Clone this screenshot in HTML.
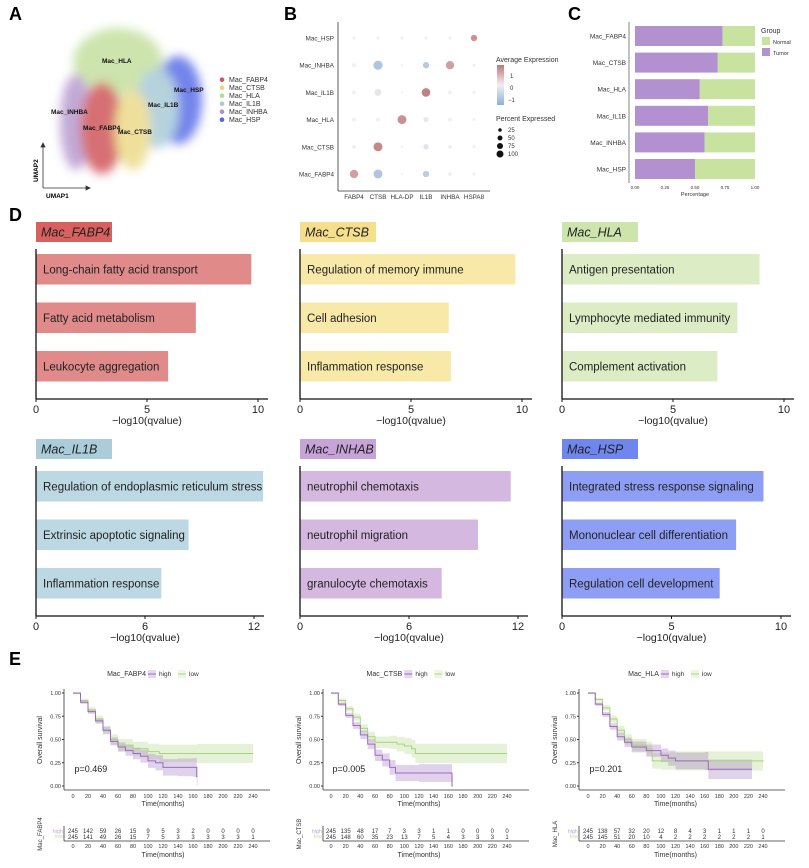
<!DOCTYPE html>
<html><head><meta charset="utf-8">
<style>
html,body{margin:0;padding:0;background:#fff;}
svg{display:block;font-family:"Liberation Sans",Arial,sans-serif;}
</style></head>
<body>
<svg id="fig" width="809" height="868" viewBox="0 0 809 868" xmlns="http://www.w3.org/2000/svg">
<defs>
<filter id="blur" x="-30%" y="-30%" width="160%" height="160%"><feGaussianBlur stdDeviation="5"/></filter>
<linearGradient id="cbar" x1="0" y1="0" x2="0" y2="1">
<stop offset="0" stop-color="#c0787a"/><stop offset="0.5" stop-color="#f3eef0"/><stop offset="1" stop-color="#8fb0d6"/>
</linearGradient>
</defs>

<g font-weight="bold" font-size="18" fill="#000">
<text x="9" y="20">A</text>
<text x="284" y="20">B</text>
<text x="568" y="20">C</text>
<text x="9" y="221">D</text>
<text x="9" y="665">E</text>
</g>

<g id="umap">
<g filter="url(#blur)" opacity="0.85">
<ellipse cx="118" cy="62" rx="45" ry="34" fill="#c5e0a0"/>
<ellipse cx="178" cy="100" rx="24" ry="44" fill="#5b6ee8"/>
<ellipse cx="157" cy="108" rx="22" ry="40" fill="#a9cbd8"/>
<ellipse cx="76" cy="122" rx="16" ry="48" fill="#b89bd0"/>
<ellipse cx="102" cy="128" rx="22" ry="46" fill="#d0595c"/>
<ellipse cx="133" cy="130" rx="18" ry="40" fill="#ecdb8a"/>
</g>
<g font-size="6.5" font-weight="bold" fill="#111">
<text x="102" y="63">Mac_HLA</text>
<text x="174" y="92">Mac_HSP</text>
<text x="148" y="107">Mac_IL1B</text>
<text x="51" y="114">Mac_INHBA</text>
<text x="83" y="130">Mac_FABP4</text>
<text x="118" y="134">Mac_CTSB</text>
</g>
<g stroke="#333" stroke-width="0.8" fill="#333">
<line x1="43" y1="188" x2="43" y2="146"/><polygon points="41,147 45,147 43,143"/>
<line x1="43" y1="188" x2="87" y2="188"/><polygon points="86,186 86,190 90,188"/>
</g>
<text x="38" y="182" font-size="6.5" font-weight="bold" transform="rotate(-90 38 182)">UMAP2</text>
<text x="46" y="198" font-size="6.5" font-weight="bold">UMAP1</text>
<g id="umapLegend" font-size="7" fill="#333"></g>
</g>

<g id="dotplot"></g>
<g id="stack"></g>
<g id="enrich"></g>
<g id="km"></g>
</svg>

<script>
const NS="http://www.w3.org/2000/svg";
function el(tag,attrs,parent,txt){const e=document.createElementNS(NS,tag);for(const k in attrs)e.setAttribute(k,attrs[k]);if(txt!==undefined)e.textContent=txt;parent.appendChild(e);return e;}

const umapClusters=["Mac_FABP4","Mac_CTSB","Mac_HLA","Mac_IL1B","Mac_INHBA","Mac_HSP"];
const umapColors=["#c9585c","#ecd57a","#b8dc8e","#a9cbd8","#b48fd0","#5068e8"];
const uL=document.getElementById('umapLegend');
umapClusters.forEach((c,i)=>{
  const y=82+i*8;
  const d=el('circle',{cx:222,cy:y-2.3,r:2.3,fill:umapColors[i]},uL);
  
  
  const t=el('text',{x:229,y:y},uL,c);
  
  
});

const dpGenes=["FABP4","CTSB","HLA-DP","IL1B","INHBA","HSPA8"];
const dpClusters=["Mac_FABP4","Mac_CTSB","Mac_HLA","Mac_IL1B","Mac_INHBA","Mac_HSP"];
const dpPct=[[70,80,5,40,15,10],[15,80,5,30,15,10],[15,15,80,25,15,10],[15,50,5,75,15,10],[15,85,5,40,70,10],[10,10,10,10,10,40]];
const dpAvg=[[1,-1,0,-0.8,0,0],[0,1.3,0,-0.3,0,0],[0,0,1.2,-0.2,0,0],[0,-0.2,0,1.4,0,0],[0,-1,0,-0.9,1,0],[0,0,0,0,0,1.2]];
(function(){
  const g=document.getElementById('dotplot');
  const x0=354,dx=24,yBot=174,dy=27.2;
  const xs=i=>x0+i*dx, ys=j=>yBot-j*dy;
  const rs=p=>Math.sqrt(p/100)*5;
  function col(v){const t=Math.max(-1.5,Math.min(1.5,v))/1.5;
    const a=[243,238,240],hi=[192,120,122],lo=[143,176,214];const b=t>0?hi:lo;const k=Math.abs(t);
    return `rgb(${a.map((c,i)=>Math.round(c+(b[i]-c)*k)).join(',')})`;}
  el('line',{x1:338,y1:22,x2:338,y2:191,stroke:'#333','stroke-width':0.8},g);
  el('line',{x1:338,y1:191,x2:490,y2:191,stroke:'#333','stroke-width':0.8},g);
  dpClusters.forEach((c,j)=>{const t=el('text',{x:334,y:ys(j)+2.5,'font-size':6.3,'text-anchor':'end',fill:'#333'},g,c);
    });
  dpGenes.forEach((gn,i)=>{const t=el('text',{x:xs(i),y:199,'font-size':6.3,'text-anchor':'middle',fill:'#333'},g,gn);
    });
  dpClusters.forEach((c,j)=>dpGenes.forEach((gn,i)=>{
    const d=el('circle',{cx:xs(i),cy:ys(j),r:Math.max(0.6,rs(dpPct[j][i])),fill:col(dpAvg[j][i])},g);
    }));
  el('text',{x:496,y:62,'font-size':7,fill:'#333'},g,'Average Expression');
  el('rect',{x:497,y:65,width:7,height:40,fill:'url(#cbar)'},g);
  el('text',{x:510,y:78,'font-size':6,fill:'#333'},g,'1');
  el('text',{x:510,y:90,'font-size':6,fill:'#333'},g,'0');
  el('text',{x:508,y:102,'font-size':6,fill:'#333'},g,'−1');
  el('text',{x:496,y:121,'font-size':7,fill:'#333'},g,'Percent Expressed');
  [25,50,75,100].forEach((p,i)=>{el('circle',{cx:500,cy:130+i*8,r:rs(p)*0.7,fill:'#111'},g);
    el('text',{x:508,y:132+i*8,'font-size':6,fill:'#333'},g,String(p));});
})();

const stCats=["Mac_FABP4","Mac_CTSB","Mac_HLA","Mac_IL1B","Mac_INHBA","Mac_HSP"];
const stTumor=[0.73,0.69,0.54,0.61,0.58,0.50];
const stTicks=["0.00","0.25","0.50","0.75","1.00"];
(function(){
  const g=document.getElementById('stack');
  const x0=635,w=120;const xs=v=>x0+v*w;const yc=i=>36+i*26.6;const h=20;
  el('line',{x1:629,y1:22,x2:629,y2:183,stroke:'#999','stroke-width':1.2},g);
  stCats.forEach((c,i)=>{
    const r1=el('rect',{x:xs(0),y:yc(i)-h/2,width:xs(stTumor[i])-xs(0),height:h,fill:'#b391d0'},g);
    
    const r2=el('rect',{x:xs(stTumor[i]),y:yc(i)-h/2,width:xs(1)-xs(stTumor[i]),height:h,fill:'#c8e3a0'},g);
    
    const t=el('text',{x:626,y:yc(i)+2.5,'font-size':6.5,'text-anchor':'end',fill:'#333'},g,c);
    
  });
  stTicks.forEach((tk,i)=>el('text',{x:xs(parseFloat(tk)),y:189,'font-size':4.5,'text-anchor':'middle',fill:'#333'},g,tk));
  el('text',{x:xs(0.5),y:196,'font-size':5.5,'text-anchor':'middle',fill:'#333'},g,'Percentage');
  el('text',{x:761,y:33,'font-size':7,fill:'#333'},g,'Group');
  el('rect',{x:762,y:37,width:8,height:8,fill:'#c8e3a0'},g);
  el('text',{x:773,y:44,'font-size':5.5,fill:'#333'},g,'Normal');
  el('rect',{x:762,y:48,width:8,height:8,fill:'#b391d0'},g);
  el('text',{x:773,y:55,'font-size':5.5,fill:'#333'},g,'Tumor');
})();

const enTitles=["Mac_FABP4","Mac_CTSB","Mac_HLA","Mac_IL1B","Mac_INHAB","Mac_HSP"];
const enTerms=[["Long-chain fatty acid transport","Fatty acid metabolism","Leukocyte aggregation"],
["Regulation of memory immune","Cell adhesion","Inflammation response"],
["Antigen presentation","Lymphocyte mediated immunity","Complement activation"],
["Regulation of endoplasmic reticulum stress","Extrinsic apoptotic signaling","Inflammation response"],
["neutrophil chemotaxis","neutrophil migration","granulocyte chemotaxis"],
["Integrated stress response signaling","Mononuclear cell differentiation","Regulation cell development"]];
const enValues=[[9.7,7.2,5.95],[9.7,6.7,6.8],[8.9,7.9,7.0],[12.5,8.4,6.9],[11.6,9.8,7.8],[9.2,7.95,7.2]];
const enTicks=[[0,5,10],[0,5,10],[0,5,10],[0,6,12],[0,6,12],[0,5,10]];
const enBarCol=["#e08a8a","#f8e9a8","#dcedc6","#bcd8e2","#d4b8e0","#8e9ef4"];
const enTitleCol=["#d8605f","#f6df8c","#cde5ad","#aacdd9","#c6a3d9","#6f86ee"];
(function(){
  const g=document.getElementById('enrich');
  const px=[36,300,562,36,300,562];const py=[222,222,222,439,439,439];
  const span=[222,222,222,218,218,219];
  for(let k=0;k<6;k++){
    const x0=px[k],top=py[k];const mx=enTicks[k][2];const xs=v=>x0+v/mx*span[k];
    const grp=el('g',{},g);
    const tb=el('rect',{x:x0,y:top,width:76,height:20,fill:enTitleCol[k]},grp);
    
    el('text',{x:x0+5,y:top+14.5,'font-size':12.5,'font-style':'italic',fill:'#222'},grp,enTitles[k]);
    const axY=top+177;
    for(let i=0;i<3;i++){
      const y=top+32+i*48.5;
      const b=el('rect',{x:xs(0),y:y,width:xs(enValues[k][i])-xs(0),height:30.5,fill:enBarCol[k]},grp);
      
      el('text',{x:x0+7,y:y+19.5,'font-size':11.5,fill:'#222'},grp,enTerms[k][i]);
    }
    el('line',{x1:x0,y1:top+27,x2:x0,y2:axY,stroke:'#111','stroke-width':1.3},grp);
    el('line',{x1:x0,y1:axY,x2:x0+span[k]+10,y2:axY,stroke:'#111','stroke-width':1.3},grp);
    enTicks[k].forEach(t=>{el('line',{x1:xs(t),y1:axY,x2:xs(t),y2:axY+3,stroke:'#111'},grp);
      el('text',{x:xs(t),y:axY+14,'font-size':11,'text-anchor':'middle',fill:'#222'},grp,String(t));});
    el('text',{x:xs(mx/2),y:axY+25,'font-size':10.5,'text-anchor':'middle',fill:'#222'},grp,'−log10(qvalue)');
  }
})();

const kmNames=["Mac_FABP4","Mac_CTSB","Mac_HLA"];
const kmPvals=["p=0.469","p=0.005","p=0.201"];
const kmHighT=[[0,10,20,30,40,50,60,70,80,90,100,110,120,140,160,165,166],[0,10,20,30,40,50,60,70,80,88,120,165,166],[0,10,20,30,40,50,60,80,100,110,120,160,165,225]];
const kmHighS=[[1,.9,.8,.7,.6,.48,.42,.38,.35,.32,.27,.25,.20,.20,.20,.10,.10],[1,.88,.76,.65,.55,.45,.33,.28,.2,.14,.14,.0,.0],[1,.88,.77,.64,.53,.47,.42,.38,.33,.3,.27,.27,.18,.18]];
const kmLowT=[[0,10,20,30,40,50,60,80,100,115,165,240],[0,10,20,30,40,50,60,80,90,100,110,115,240],[0,10,20,30,40,50,60,80,88,100,120,240]];
const kmLowS=[[1,.92,.82,.72,.6,.5,.44,.4,.37,.35,.35,.35],[1,.92,.83,.74,.62,.53,.47,.47,.45,.43,.40,.35,.35],[1,.93,.84,.72,.6,.5,.44,.4,.27,.27,.27,.26]];
const kmRiskHigh=[[245,142,59,26,15,9,5,3,2,0,0,0,0],[245,135,48,17,7,3,3,1,1,0,0,0,0],[245,138,57,32,20,12,8,4,3,1,1,1,0]];
const kmRiskLow=[[245,141,49,26,15,7,5,3,3,3,3,3,1],[245,148,60,35,23,13,7,5,4,3,3,3,1],[245,145,51,20,10,4,2,2,2,2,2,2,1]];
const kmXTicks=[0,20,40,60,80,100,120,140,160,180,200,220,240];
const kmYTicks=[0,0.25,0.5,0.75,1];
(function(){
  const g=document.getElementById('km');
  const axX=[64,323,579];const x0s=[73,331,588];const xw=[180,176,175];
  const yTop=693,yBot=786;const ys=s=>yBot-(yBot-yTop)*s;
  const HC='#9b6bbf',LC='#a8d57a';
  function stepPath(T,S,xs){let d=`M${xs(T[0])},${ys(S[0])}`;
    for(let i=1;i<T.length;i++){d+=`H${xs(T[i])}V${ys(S[i])}`;}return d;}
  function band(T,S,xs,w){let up=[],lo=[];
    for(let i=0;i<T.length;i++){const a=xs(T[i]),b=i+1<T.length?xs(T[i+1]):xs(T[i]);const wi=w*(i/T.length+0.1);
      const u=ys(Math.min(1,S[i]+wi)),l=ys(Math.max(0,S[i]-wi));up.push(`${a},${u}`,`${b},${u}`);lo.unshift(`${b},${l}`,`${a},${l}`);}
    return up.concat(lo).join(' ');}
  for(let k=0;k<3;k++){
    const grp=el('g',{},g);
    const xs=t=>x0s[k]+t/240*xw[k];
    const lx=xs(100);
    el('text',{x:lx-2,y:676,'font-size':7,'text-anchor':'end',fill:'#333'},grp,kmNames[k]);
    el('rect',{x:lx,y:670,width:8,height:8,fill:'#e6d6ef'},grp);el('line',{x1:lx,y1:674,x2:lx+8,y2:674,stroke:HC},grp);
    el('text',{x:lx+11,y:676,'font-size':6.5,fill:'#333'},grp,'high');
    el('rect',{x:lx+30,y:670,width:8,height:8,fill:'#eef6e2'},grp);el('line',{x1:lx+30,y1:674,x2:lx+38,y2:674,stroke:LC},grp);
    el('text',{x:lx+41,y:676,'font-size':6.5,fill:'#333'},grp,'low');
    const bl=el('polygon',{points:band(kmLowT[k],kmLowS[k],xs,0.11),fill:LC,opacity:0.3},grp);
    
    const bh=el('polygon',{points:band(kmHighT[k],kmHighS[k],xs,0.11),fill:HC,opacity:0.3},grp);
    
    const pl=el('path',{d:stepPath(kmLowT[k],kmLowS[k],xs),fill:'none',stroke:LC,'stroke-width':1},grp);
    
    const ph=el('path',{d:stepPath(kmHighT[k],kmHighS[k],xs),fill:'none',stroke:HC,'stroke-width':1},grp);
    
    el('line',{x1:axX[k],y1:689,x2:axX[k],y2:790,stroke:'#333','stroke-width':0.8},grp);
    el('line',{x1:axX[k],y1:790,x2:axX[k]+206,y2:790,stroke:'#333','stroke-width':0.8},grp);
    kmYTicks.forEach(v=>{el('line',{x1:axX[k]-2,y1:ys(v),x2:axX[k],y2:ys(v),stroke:'#333'},grp);
      el('text',{x:axX[k]-3,y:ys(v)+2,'font-size':5.5,'text-anchor':'end',fill:'#333'},grp,v.toFixed(2));});
    kmXTicks.forEach(t=>{el('text',{x:xs(t),y:798,'font-size':5.5,'text-anchor':'middle',fill:'#333'},grp,String(t));
      el('text',{x:xs(t),y:848,'font-size':5.5,'text-anchor':'middle',fill:'#333'},grp,String(t));});
    el('text',{x:xs(120),y:806,'font-size':7,'text-anchor':'middle',fill:'#333'},grp,'Time(months)');
    el('text',{x:xs(120),y:857,'font-size':7,'text-anchor':'middle',fill:'#333'},grp,'Time(months)');
    el('text',{x:axX[k]-22,y:740,'font-size':7,'text-anchor':'middle',fill:'#333',transform:`rotate(-90 ${axX[k]-22} 740)`},grp,'Overall survival');
    el('text',{x:xs(2),y:772,'font-size':9,fill:'#222'},grp,kmPvals[k]);
    el('line',{x1:axX[k],y1:826,x2:axX[k],y2:841,stroke:'#333','stroke-width':0.8},grp);
    el('line',{x1:axX[k],y1:841,x2:axX[k]+206,y2:841,stroke:'#333','stroke-width':0.8},grp);
    el('text',{x:axX[k]-1,y:833,'font-size':5.5,'text-anchor':'end',fill:'#c4a6d6'},grp,'high');
    el('text',{x:axX[k]-1,y:838,'font-size':5.5,'text-anchor':'end',fill:'#c8e3a0'},grp,'low');
    el('text',{x:axX[k]-22,y:834,'font-size':6,'text-anchor':'middle',fill:'#333',transform:`rotate(-90 ${axX[k]-22} 834)`},grp,kmNames[k]);
    kmXTicks.forEach((t,i)=>{
      el('text',{x:xs(t),y:833,'font-size':6,'text-anchor':'middle',fill:'#333'},grp,String(kmRiskHigh[k][i]));
      el('text',{x:xs(t),y:839,'font-size':6,'text-anchor':'middle',fill:'#333'},grp,String(kmRiskLow[k][i]));
    });
  }
})();
</script>
</body></html>
